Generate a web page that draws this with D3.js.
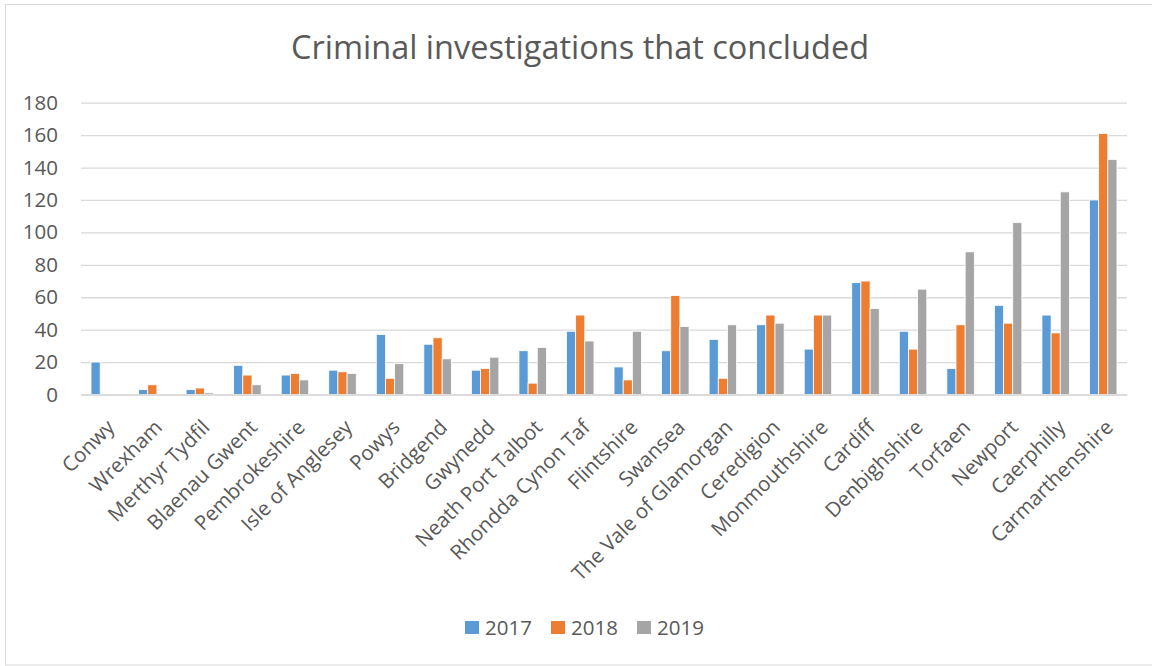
<!DOCTYPE html>
<html>
<head>
<meta charset="utf-8">
<script src="https://cdn.jsdelivr.net/npm/d3@7/dist/d3.min.js"></script>
<style>
  html, body { margin: 0; padding: 0; background: #fff; }
  svg { display: block; }
  text { font-family: "Open Sans", "Noto Sans", sans-serif; fill: #595959; }
</style>
</head>
<body>
<svg id="chart" width="1152" height="666"></svg>
<script>
// Concluded criminal investigations per local authority, 2017–2019
const categories = [
  "Conwy", "Wrexham", "Merthyr Tydfil", "Blaenau Gwent", "Pembrokeshire",
  "Isle of Anglesey", "Powys", "Bridgend", "Gwynedd", "Neath Port Talbot",
  "Rhondda Cynon Taf", "Flintshire", "Swansea", "The Vale of Glamorgan",
  "Ceredigion", "Monmouthshire", "Cardiff", "Denbighshire", "Torfaen",
  "Newport", "Caerphilly", "Carmarthenshire"
];
const seriesNames = ["2017", "2018", "2019"];
const values2017 = [20, 3, 3, 18, 12, 15, 37, 31, 15, 27, 39, 17, 27, 34, 43, 28, 69, 39, 16, 55, 49, 120];
const values2018 = [0, 6, 4, 12, 13, 14, 10, 35, 16, 7, 49, 9, 61, 10, 49, 49, 70, 28, 43, 44, 38, 161];
const values2019 = [0, 0, 1, 6, 9, 13, 19, 22, 23, 29, 33, 39, 42, 43, 44, 49, 53, 65, 88, 106, 125, 145];
const yTicks = [0, 20, 40, 60, 80, 100, 120, 140, 160, 180];
const colors = ["#5B9BD5", "#ED7D31", "#A5A5A5"];

const seriesValues = [values2017, values2018, values2019];
const rows = categories.map((c, i) => ({
  name: c,
  vals: seriesNames.map((s, k) => ({ key: s, value: seriesValues[k][i] }))
}));

const svg = d3.select("#chart");

// chart frame
svg.append("rect")
  .attr("x", 5.5).attr("y", 4.5)
  .attr("width", 1170).attr("height", 660.5)
  .attr("fill", "#fff").attr("stroke", "#D9D9D9").attr("stroke-width", 1);

const plot = { left: 81, right: 1127, top: 102.7, bottom: 394.5 };

const x0 = d3.scaleBand().domain(categories).range([plot.left, plot.right]).padding(0);
const x1 = d3.scaleBand().domain(seriesNames).range([0, x0.bandwidth()])
  .paddingInner(0).paddingOuter(1.095);
const y = d3.scaleLinear().domain([0, 180]).range([plot.bottom, plot.top]);
const color = d3.scaleOrdinal().domain(seriesNames).range(colors);

// title
svg.append("text")
  .attr("x", 580).attr("y", 59)
  .attr("text-anchor", "middle")
  .style("font-size", "32.5px")
  .text("Criminal investigations that concluded");

// horizontal gridlines
const yAxis = d3.axisLeft(y).tickValues(yTicks).tickSize(-(plot.right - plot.left)).tickPadding(23);
const gy = svg.append("g").attr("transform", `translate(${plot.left},0)`).call(yAxis);
gy.select(".domain").remove();
gy.selectAll(".tick line").attr("stroke", "#D9D9D9").attr("stroke-width", 1.3);
gy.selectAll(".tick text")
  .attr("fill", "#595959")
  .style("font-size", "20.5px")
  .style("font-family", "'Open Sans', sans-serif");

// bars
const groups = svg.append("g").selectAll("g")
  .data(rows).join("g")
  .attr("transform", d => `translate(${x0(d.name)},0)`);

groups.selectAll("rect")
  .data(d => d.vals).join("rect")
  .attr("x", d => x1(d.key))
  .attr("width", x1.bandwidth())
  .attr("y", d => y(d.value))
  .attr("height", d => y(0) - y(d.value))
  .attr("fill", d => color(d.key))
  .attr("stroke", "#fff")
  .attr("stroke-width", 0.8);

// category axis
const xAxis = d3.axisBottom(x0).tickSize(0).tickPadding(0);
const gx = svg.append("g").attr("transform", `translate(0,${y(0)})`).call(xAxis);
gx.select(".domain").attr("stroke", "#D9D9D9").attr("stroke-width", 1.3);
gx.selectAll(".tick text")
  .attr("fill", "#595959")
  .style("font-size", "20.5px")
  .style("font-family", "'Open Sans', sans-serif")
  .attr("text-anchor", "end")
  .attr("dy", "0.35em")
  .attr("y", 0)
  .attr("transform", "translate(6,29) rotate(-45)");

// legend
const legend = svg.append("g").attr("transform", "translate(465,621)");
const items = legend.selectAll("g").data(seriesNames).join("g")
  .attr("transform", (d, i) => `translate(${i * 86},0)`);
items.append("rect")
  .attr("width", 14).attr("height", 13)
  .attr("fill", d => color(d));
items.append("text")
  .attr("x", 20).attr("y", 7)
  .attr("dy", "0.35em")
  .style("font-size", "20.5px")
  .text(d => d);
</script>
</body>
</html>
